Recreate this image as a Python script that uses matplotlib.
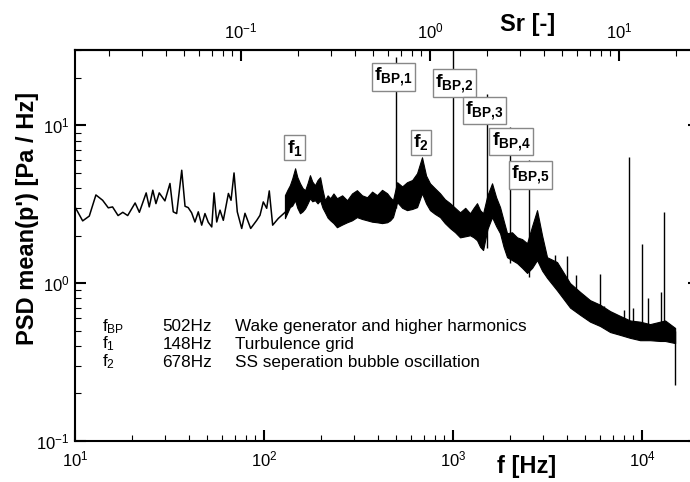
import numpy as np
import matplotlib
matplotlib.use("Agg")
import matplotlib.pyplot as plt
from matplotlib.ticker import NullFormatter, FixedLocator

plt.rcParams['font.family'] = 'Liberation Sans'
plt.rcParams['mathtext.fontset'] = 'custom'
plt.rcParams['mathtext.rm'] = 'Liberation Sans'
plt.rcParams['mathtext.bf'] = 'Liberation Sans:bold'
plt.rcParams['mathtext.it'] = 'Liberation Sans:italic'
plt.rcParams['mathtext.default'] = 'regular'

# Strouhal number: Sr = f / SR_SCALE
SR_SCALE = 755.0
SR_TICKS = [0.1, 1, 10]

# low frequency part of the spectrum (single visible line)
low_f = [10.0, 10.98, 11.9, 12.9, 14.0, 15.0, 15.8, 16.9, 17.9, 19.0, 20.8, 21.9, 23.8, 24.7,
         25.8, 26.8, 27.9, 29.9, 31.8, 33.1, 34.5, 36.7, 38.2, 39.7, 41.4, 43.1, 44.9, 46.8,
         48.7, 50.7, 52.9, 54.4, 56.2, 58.5, 60.9, 64.8, 66.9, 69.4, 72.2, 76.2, 79.3, 85.0,
         91.5, 95.2, 99.1, 103.3, 106.6, 111.1, 119.0, 124.1, 129.2]
low_psd = [3.04, 2.48, 2.66, 3.62, 3.35, 3.0, 3.04, 2.68, 2.81, 2.68, 3.22, 2.81, 3.73, 3.04,
           3.88, 3.19, 3.73, 3.32, 4.28, 2.83, 2.76, 5.19, 3.07, 3.01, 2.79, 2.44, 2.83, 2.33,
           2.76, 2.43, 2.27, 3.73, 2.44, 2.90, 2.50, 3.70, 3.35, 4.99, 2.83, 2.22, 2.77, 2.22,
           2.50, 2.69, 3.27, 2.98, 3.84, 2.33, 2.57, 2.69, 2.81]

# dense noisy part: lower and upper edge of the black band
band_f = [129, 133, 137, 141, 146, 150, 155, 160, 165, 170, 175, 180, 186, 192, 198, 204, 210,
          217, 224, 233, 243, 259, 275, 292, 310, 330, 351, 373, 396, 421, 448, 465, 481,
          506, 538, 571, 608, 645, 685, 720, 755, 800, 853, 905, 964, 1025, 1089, 1160, 1230,
          1285, 1339, 1390, 1442, 1520, 1608, 1690, 1773, 1850, 1931, 2050, 2181, 2320, 2464,
          2620, 2782, 2960, 3143, 3550, 4159, 4699, 5308, 5997, 6774, 7653, 8646, 9760, 11020,
          12450, 13240, 14960]
band_hi = [3.61, 3.9, 4.17, 4.6, 5.34, 4.7, 4.29, 4.0, 3.88, 4.3, 4.83, 4.4, 4.17, 4.5, 4.69,
           3.9, 3.35, 3.6, 3.45, 3.7, 3.45, 3.6, 3.35, 3.7, 3.88, 3.6, 3.50, 3.8, 3.61, 3.9,
           3.71, 3.5, 3.35, 4.36, 4.1, 4.36, 4.5, 4.97, 6.27, 4.8, 4.29, 4.0, 3.71, 3.4, 3.21,
           3.0, 2.81, 3.0, 2.77, 3.0, 3.21, 2.9, 2.77, 3.6, 4.29, 3.5, 3.03, 2.5, 2.07, 2.1,
           1.95, 1.9, 1.79, 2.3, 2.90, 2.0, 1.46, 1.36, 1.0, 0.88, 0.78, 0.73, 0.665, 0.62,
           0.58, 0.57, 0.55, 0.57, 0.58, 0.52]
band_lo = [2.58, 2.8, 3.03, 3.1, 3.35, 3.0, 2.77, 2.85, 2.98, 3.2, 3.45, 3.3, 3.35, 3.2, 3.35,
           3.0, 2.81, 2.6, 2.50, 2.4, 2.26, 2.35, 2.43, 2.5, 2.62, 2.55, 2.50, 2.45, 2.43, 2.4,
           2.43, 2.5, 2.62, 3.26, 3.0, 2.90, 2.95, 3.03, 3.71, 3.2, 2.90, 2.75, 2.62, 2.4, 2.23,
           2.1, 1.95, 1.98, 2.01, 1.95, 1.87, 1.7, 1.62, 2.2, 2.62, 2.3, 2.07, 1.7, 1.46, 1.4,
           1.34, 1.25, 1.16, 1.25, 1.40, 1.2, 1.08, 0.90, 0.70, 0.63, 0.57, 0.535, 0.49, 0.47,
           0.45, 0.435, 0.435, 0.43, 0.43, 0.417]

# tonal spikes (blade passing harmonics and others)
spike_f = [502, 1004, 1506, 2008, 2510, 3475, 3996, 4457, 6012, 6318, 8035, 8505, 8930,
           9960, 10720, 12600, 13020, 14960]
spike_bot = [3.0, 2.4, 1.67, 1.34, 1.09, 1.0, 0.85, 0.78, 0.6, 0.6, 0.5, 0.5, 0.5, 0.48,
             0.48, 0.47, 0.47, 0.226]
spike_top = [26.9, 31.0, 15.7, 9.7, 6.0, 1.50, 1.48, 1.12, 1.14, 0.715, 0.675, 6.27, 0.695,
             1.77, 0.80, 0.88, 2.83, 0.5]

# boxed peak labels
label_text = [r'$\mathbf{f_{1}}$', r'$\mathbf{f_{2}}$', r'$\mathbf{f_{BP{,}1}}$',
              r'$\mathbf{f_{BP{,}2}}$', r'$\mathbf{f_{BP{,}3}}$', r'$\mathbf{f_{BP{,}4}}$',
              r'$\mathbf{f_{BP{,}5}}$']
label_f = [145, 677, 484, 1018, 1469, 2028, 2570]
label_psd = [7.2, 7.8, 20.3, 18.5, 12.4, 7.9, 4.86]

# legend block
leg_sym = [r'$f_{BP}$', r'$f_{1}$', r'$f_{2}$']
leg_freq = ['502Hz', '148Hz', '678Hz']
leg_desc = ['Wake generator and higher harmonics', 'Turbulence grid',
            'SS seperation bubble oscillation']


def main():
    fig = plt.figure(figsize=(6.9, 4.82), dpi=100)
    ax = fig.add_axes([0.1087, 0.0851, 0.9043, 0.8112])

    ax.plot(low_f, low_psd, color='black', lw=1.1)
    ax.fill_between(band_f, band_lo, band_hi, color='black', lw=0.8)
    ax.vlines(spike_f, spike_bot, spike_top, color='black', lw=1.0)

    ax.set_xscale('log')
    ax.set_yscale('log')
    ax.set_xlim(10, 2e4)
    ax.set_ylim(0.1, 30)

    ax.tick_params(which='both', direction='in', top=False, right=True, labelsize=12)
    ax.tick_params(which='major', length=8, width=1.5)
    ax.tick_params(which='minor', length=4.5, width=0.8)
    ax.tick_params(axis='x', pad=6)
    ax.tick_params(axis='y', pad=4)
    ax.xaxis.set_minor_formatter(NullFormatter())
    ax.yaxis.set_minor_formatter(NullFormatter())
    for sp in ax.spines.values():
        sp.set_linewidth(1.5)

    # top axis in Strouhal number
    sec = ax.secondary_xaxis('top', functions=(lambda f: f / SR_SCALE, lambda s: s * SR_SCALE))
    sec.xaxis.set_major_locator(FixedLocator(SR_TICKS))
    sec.tick_params(which='both', direction='in', labelsize=12, pad=6)
    sec.tick_params(which='major', length=8, width=1.5)
    sec.tick_params(which='minor', length=4.5, width=0.8)
    sec.xaxis.set_minor_formatter(NullFormatter())
    sec.spines['top'].set_linewidth(1.5)
    ax.text(0.726, 1.064, 'Sr [-]', transform=ax.transAxes, fontsize=17, fontweight='bold',
            ha='center', va='center')

    ax.set_xlabel('f [Hz]', fontsize=17, fontweight='bold')
    ax.xaxis.set_label_coords(0.724, -0.036)
    ax.set_ylabel("PSD mean(p') [Pa / Hz]", fontsize=17, fontweight='bold')
    ax.yaxis.set_label_coords(-0.058, 0.568)

    for txt, f, p in zip(label_text, label_f, label_psd):
        ax.text(f, p, txt, ha='center', va='center', fontsize=14, zorder=5,
                bbox=dict(boxstyle='square,pad=0.12', fc='white', ec='#888888', lw=1))

    rows_y = [0.2916, 0.248, 0.202]
    for y, s, fr, d in zip(rows_y, leg_sym, leg_freq, leg_desc):
        ax.text(0.0433, y, s, transform=ax.transAxes, fontsize=12.3, va='center', ha='left')
        ax.text(0.2196, y, fr, transform=ax.transAxes, fontsize=12.3, va='center', ha='right')
        ax.text(0.2564, y, d, transform=ax.transAxes, fontsize=12.3, va='center', ha='left')

    fig.savefig('out.png', dpi=100)


if __name__ == '__main__':
    main()
